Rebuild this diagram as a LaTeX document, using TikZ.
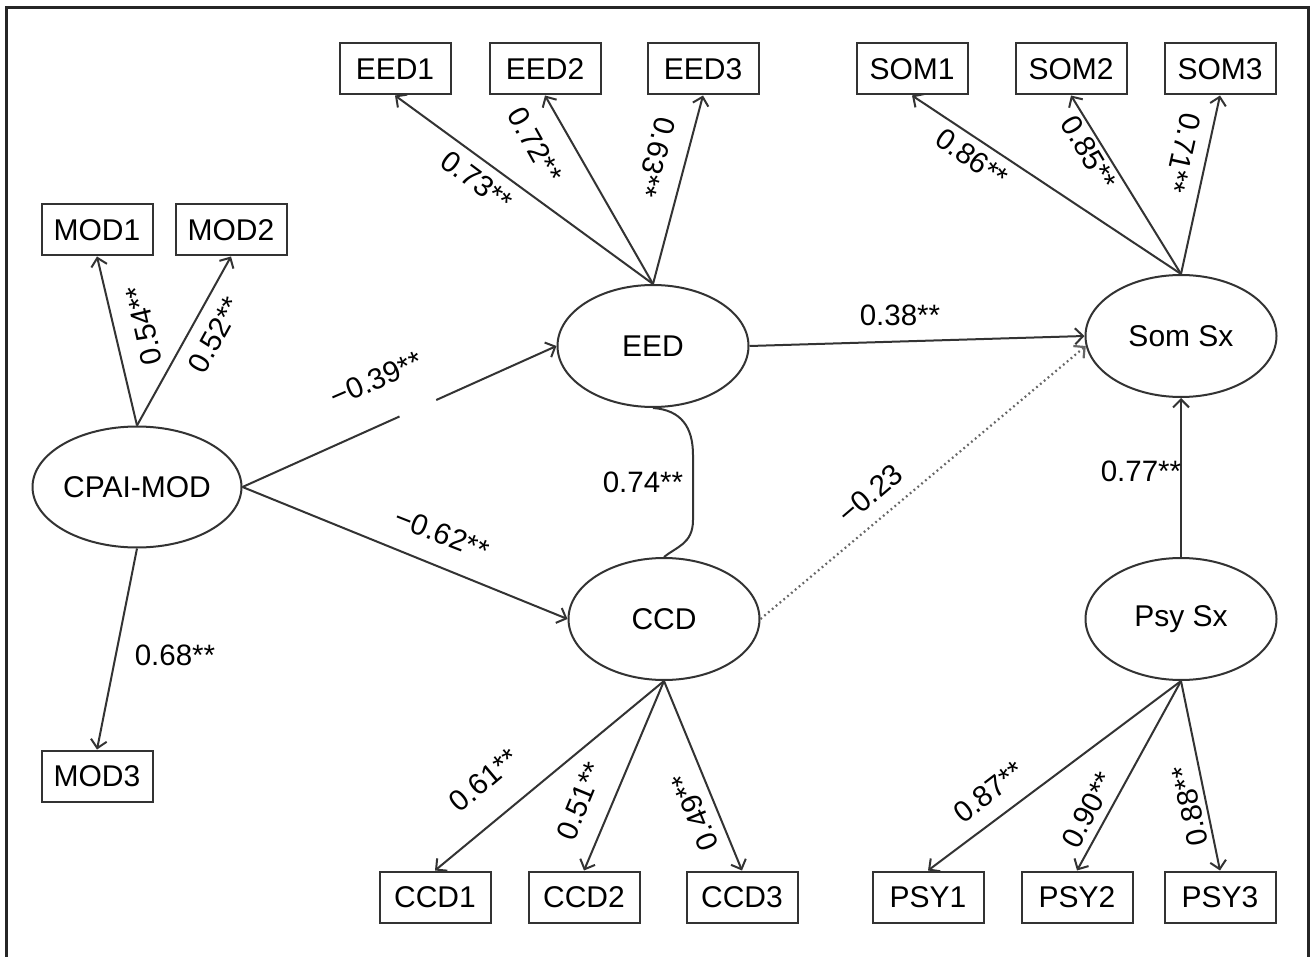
\documentclass[tikz,border=0pt]{standalone}
\usepackage{fontspec}
\setmainfont{Liberation Sans}
\usetikzlibrary{arrows.meta,calc,shapes.geometric}
\tikzset{
  box/.style={draw=black!80, line width=2pt, minimum width=111pt, minimum height=51pt, inner sep=0pt, font=\fontsize{30}{34}\selectfont},
  lat/.style={ellipse, draw=black!80, line width=2pt, inner sep=0pt, minimum width=191pt, minimum height=122pt, font=\fontsize{30}{34}\selectfont},
  conn/.style={draw=black!80, line width=2pt, -{Straight Barb[length=8pt,width=16pt]}},
  plain/.style={draw=black!80, line width=2pt},
  dotline/.style={draw=black!60, line width=2.2pt, dash pattern=on 1.8pt off 3.2pt, -{Straight Barb[length=8pt,width=16pt]}},
  lab/.style={font=\fontsize{29.5}{33}\selectfont, inner sep=0pt},
  frame/.style={draw=black!85, line width=3pt}
}
\begin{document}
\begin{tikzpicture}[x=1pt,y=-1pt]
\useasboundingbox (0,0) rectangle (1312,957);
\fill[white] (0,0) rectangle (1312,957);
\draw[frame] (6,8) rectangle (1308,966);

% observed boxes
\node[box] (eed1) at (395,69) {EED1};
\node[box] (eed2) at (545,69) {EED2};
\node[box] (eed3) at (703,69) {EED3};
\node[box] (som1) at (912,69) {SOM1};
\node[box] (som2) at (1071,69) {SOM2};
\node[box] (som3) at (1220,69) {SOM3};
\node[box] (mod1) at (97,230) {MOD1};
\node[box] (mod2) at (231,230) {MOD2};
\node[box] (mod3) at (97,776) {MOD3};
\node[box] (ccd1) at (435,897) {CCD1};
\node[box] (ccd2) at (584,897) {CCD2};
\node[box] (ccd3) at (742,897) {CCD3};
\node[box] (psy1) at (928,897) {PSY1};
\node[box] (psy2) at (1077,897) {PSY2};
\node[box] (psy3) at (1220,897) {PSY3};

% latent ellipses
\node[lat, minimum width=188pt, minimum height=121pt] (cpai) at (137,487) {CPAI-MOD};
\node[lat] (eed) at (653,346) {EED};
\node[lat] (ccd) at (664,619) {CCD};
\node[lat] (som) at (1181,336) {Som Sx};
\node[lat] (psy) at (1181,619) {Psy Sx};

% loadings
\draw[conn] (eed.north) -- (eed1.south);
\draw[conn] (eed.north) -- (eed2.south);
\draw[conn] (eed.north) -- (eed3.south);
\draw[conn] (som.north) -- (som1.south);
\draw[conn] (som.north) -- (som2.south);
\draw[conn] (som.north) -- (som3.south);
\draw[conn] (cpai.north) -- (mod1.south);
\draw[conn] (cpai.north) -- (mod2.south);
\draw[conn] (cpai.south) -- (mod3.north);
\draw[conn] (ccd.south) -- (ccd1.north);
\draw[conn] (ccd.south) -- (ccd2.north);
\draw[conn] (ccd.south) -- (ccd3.north);
\draw[conn] (psy.south) -- (psy1.north);
\draw[conn] (psy.south) -- (psy2.north);
\draw[conn] (psy.south) -- (psy3.north);

% structural paths
\coordinate (gapA) at ($(cpai.east)!0.5!(eed.west)$);
\coordinate (gapB) at ($(cpai.east)!0.617!(eed.west)$);
\draw[plain] (cpai.east) -- (gapA);
\draw[conn] (gapB) -- (eed.west);
\draw[conn] (cpai.east) -- (ccd.west);
\draw[conn] (eed.east) -- (som.west);
\draw[dotline] (ccd.east) -- (som.186);
\draw[conn] (psy.north) -- (som.south);
\coordinate (cvA) at (693,455);
\coordinate (cvB) at (693,520);
\draw[plain] (eed.south) .. controls +(28,2) and +(0,-28) .. (cvA) -- (cvB) .. controls +(0,24) and +(12,-10) .. (ccd.north);

% labels
\node[lab, rotate=-36.8] (l1) at (477,181) {0.73**};
\node[lab, rotate=-61] (l2) at (535,145) {0.72**};
\node[lab, rotate=-104.7] (l3) at (656,157) {0.63**};
\node[lab, rotate=-34.5] (l4) at (972,158) {0.86**};
\node[lab, rotate=-59.4] (l5) at (1089,153) {0.85**};
\node[lab, rotate=-102.5] (l6) at (1183,153) {0.71**};
\node[lab, rotate=102.8] (l7) at (144,326) {0.54**};
\node[lab, rotate=61.2] (l8) at (215,335) {0.52**};
\node[lab] (l9) at (175,655) {0.68**};
\node[lab, rotate=23.4] (l10) at (376,379) {−0.39**};
\node[lab, rotate=-21.4] (l11) at (442,534) {−0.62**};
\node[lab] (l12) at (900,315) {0.38**};
\node[lab] (l13) at (643,482) {0.74**};
\node[lab, rotate=40.5] (l14) at (870,494) {−0.23};
\node[lab] (l15) at (1141,471) {0.77**};
\node[lab, rotate=40] (l16) at (484,780) {0.61**};
\node[lab, rotate=67.7] (l17) at (580,801) {0.51**};
\node[lab, rotate=112.6] (l18) at (695,812) {0.49**};
\node[lab, rotate=37.4] (l19) at (989,792) {0.87**};
\node[lab, rotate=61.9] (l20) at (1088,810) {0.90**};
\node[lab, rotate=102] (l21) at (1190,806) {0.88**};
\end{tikzpicture}
\end{document}
